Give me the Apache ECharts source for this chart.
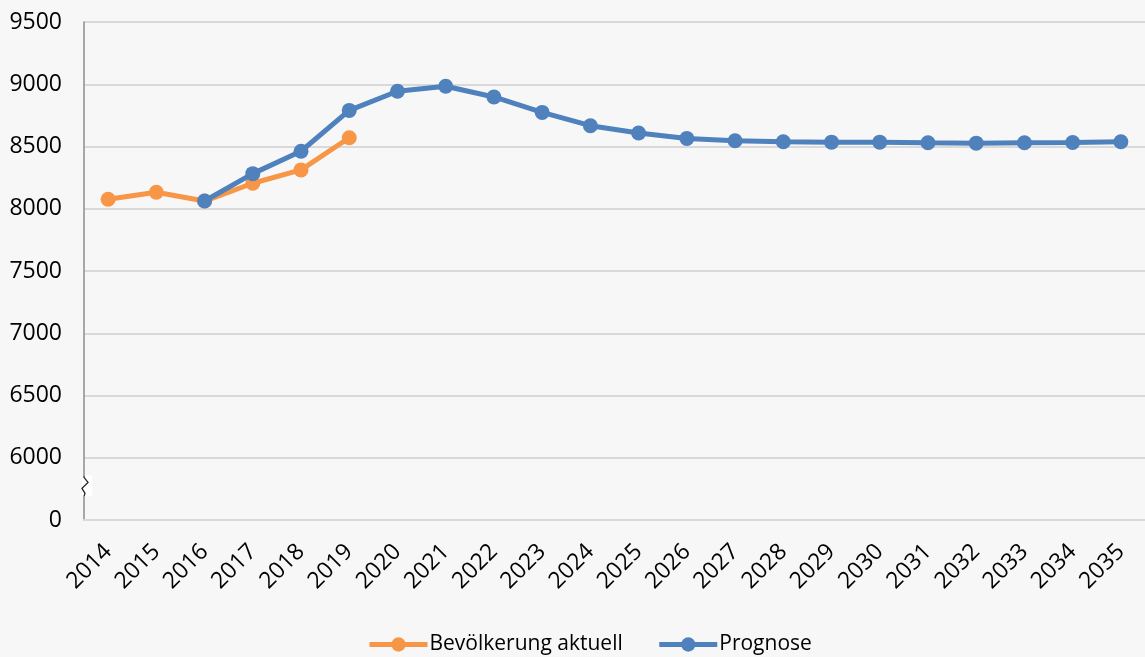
<!DOCTYPE html>
<html>
<head>
<meta charset="utf-8">
<script src="https://cdn.jsdelivr.net/npm/echarts@6/dist/echarts.min.js"></script>
<style>
html, body { margin: 0; padding: 0; background: #f7f7f7; }
#main { width: 1145px; height: 657px; }
</style>
</head>
<body>
<div id="main"></div>
<script>
var years = ['2014', '2015', '2016', '2017', '2018', '2019', '2020', '2021', '2022', '2023', '2024',
	'2025', '2026', '2027', '2028', '2029', '2030', '2031', '2032', '2033', '2034', '2035'];
var aktuell = [8076, 8132, 8062, 8205, 8312, 8570];
var prognose = ['-', '-', 8062, 8282, 8462, 8790, 8944, 8984, 8898, 8774, 8667,
	8608, 8565, 8546, 8538, 8535, 8535, 8530, 8527, 8530, 8532, 8538];
// Achse beginnt optisch bei 0, der Bereich 0..5500 ist ausgeblendet
var axisBase = 5500;

var myChart = echarts.init(document.getElementById('main'));
var font = 'Open Sans';
var option = {
	backgroundColor : '#f7f7f7',
	animation : false,
	textStyle : { fontFamily : font },
	grid : {
		left : 84,
		right : -5,
		top : 22,
		bottom : 137
	},
	legend : {
		bottom : -3,
		left : 362,
		itemWidth : 58,
		itemHeight : 18,
		itemGap : 34,
		lineStyle : { width : 5 },
		textStyle : { fontSize : 21, color : '#000', fontFamily : font, padding : [0, 0, 0, -3] },
		data : ['Bevölkerung aktuell', 'Prognose']
	},
	xAxis : {
		type : 'category',
		data : years,
		boundaryGap : true,
		axisTick : { show : false },
		axisLine : { lineStyle : { color : '#d9d9d9', width : 2 } },
		axisLabel : { rotate : 45, fontSize : 23, color : '#000', margin : 28, interval : 0 }
	},
	yAxis : {
		type : 'value',
		min : axisBase,
		max : 9500,
		interval : 500,
		axisLine : { show : true, lineStyle : { color : '#8c8c8c', width : 1.5 } },
		axisTick : { show : false },
		splitLine : { lineStyle : { color : '#d9d9d9', width : 2 } },
		axisLabel : {
			fontSize : 23,
			color : '#000',
			margin : 22,
			formatter : function(v) { return v === axisBase ? '0' : String(v); }
		}
	},
	series : [ {
		name : 'Bevölkerung aktuell',
		type : 'line',
		data : aktuell,
		symbol : 'circle',
		symbolSize : 15,
		lineStyle : { width : 5, color : '#f79646' },
		itemStyle : { color : '#f79646' },
		z : 2
	}, {
		name : 'Prognose',
		type : 'line',
		data : prognose,
		symbol : 'circle',
		symbolSize : 15,
		lineStyle : { width : 5, color : '#4f81bd' },
		itemStyle : { color : '#4f81bd' },
		z : 3
	} ]
};
myChart.setOption(option);

// Achsenbruch-Zeichen auf der y-Achse
var by = myChart.convertToPixel({ yAxisIndex : 0 }, 5770);
var bx = 84;
myChart.setOption({
	graphic : [ {
		type : 'rect',
		shape : { x : bx - 2, y : by - 11, width : 10, height : 21 },
		style : { fill : '#ffffff' },
		z : 100
	}, {
		type : 'polyline',
		shape : { points : [ [bx, by - 11], [bx, by - 9], [bx + 4, by - 4], [bx - 2, by + 2], [bx + 1, by + 7], [bx, by + 10] ] },
		style : { stroke : '#222', lineWidth : 1.3, fill : null },
		z : 101
	} ]
});
</script>
</body>
</html>
